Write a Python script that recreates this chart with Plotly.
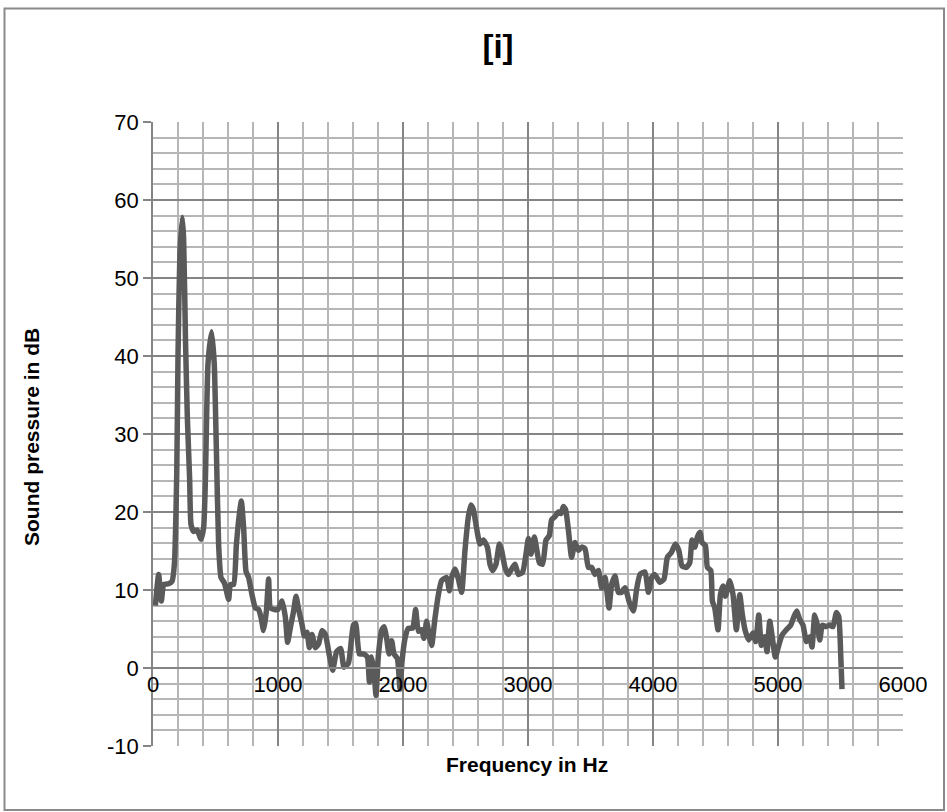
import plotly.graph_objects as go

# Frequency (Hz) and sound pressure (dB)
freq_hz = [
    19, 45, 67, 85, 125, 152, 171, 190, 200, 215, 234, 245, 260, 275, 293,
    304, 325, 352, 384, 405, 419, 440, 469, 490, 507, 525, 544, 571, 605, 619,
    645, 667, 693, 707, 725, 744, 765, 792, 819, 845, 864, 885, 907, 925, 939,
    971, 1000, 1032, 1059, 1077, 1099, 1125, 1144, 1165, 1192, 1211, 1232, 1251, 1272, 1299,
    1325, 1352, 1379, 1411, 1437, 1469, 1501, 1528, 1563, 1603, 1621, 1651, 1683, 1715, 1731,
    1749, 1768, 1784, 1803, 1829, 1848, 1869, 1888, 1909, 1928, 1955, 1976, 1992, 2016, 2043,
    2077, 2101, 2123, 2149, 2168, 2189, 2211, 2229, 2256, 2283, 2309, 2349, 2371, 2389, 2416,
    2443, 2469, 2496, 2523, 2544, 2563, 2589, 2616, 2643, 2675, 2696, 2717, 2744, 2771, 2789,
    2816, 2843, 2869, 2896, 2923, 2957, 2984, 3003, 3024, 3051, 3069, 3091, 3117, 3144, 3171,
    3189, 3216, 3243, 3264, 3283, 3301, 3323, 3349, 3376, 3403, 3429, 3456, 3483, 3509, 3536,
    3563, 3589, 3616, 3648, 3669, 3696, 3723, 3749, 3776, 3811, 3843, 3869, 3896, 3936, 3963,
    3989, 4014, 4054, 4088, 4115, 4147, 4179, 4206, 4232, 4267, 4294, 4312, 4334, 4355, 4376,
    4392, 4419, 4435, 4462, 4475, 4494, 4520, 4539, 4560, 4579, 4614, 4640, 4667, 4694, 4715,
    4739, 4766, 4800, 4822, 4846, 4867, 4894, 4912, 4934, 4952, 4979, 5006, 5032, 5067, 5102,
    5128, 5150, 5174, 5200, 5227, 5254, 5272, 5294, 5315, 5334, 5355, 5382, 5414, 5440, 5467,
    5486, 5502, 5512,
]
sound_db = [
    8.0, 12.0, 8.6, 10.7, 10.8, 11.1, 13.3, 25.0, 40.0, 53.0, 57.8, 55.0, 42.0, 32.0, 24.3,
    18.4, 17.5, 17.7, 16.5, 18.0, 24.0, 39.0, 43.1, 39.0, 28.0, 15.8, 11.6, 10.9, 8.8, 10.7,
    10.7, 15.8, 20.0, 21.4, 18.0, 12.4, 11.6, 9.4, 7.7, 7.5, 6.5, 4.8, 7.3, 11.4, 7.7,
    7.5, 7.5, 8.6, 6.5, 3.3, 5.2, 7.3, 9.2, 7.5, 5.6, 4.1, 4.6, 2.6, 4.3, 2.6,
    3.1, 4.8, 4.3, 1.6, -0.3, 2.1, 2.5, 0.1, 0.6, 5.5, 5.7, 1.8, 1.8, 1.4, -1.8,
    1.4, -0.5, -3.5, 1.6, 4.8, 5.3, 3.8, 1.8, 3.5, 1.8, 1.2, -2.7, 0.8, 3.8, 5.1,
    5.1, 7.5, 4.7, 4.9, 3.8, 6.0, 4.0, 2.9, 6.4, 9.4, 11.2, 11.6, 9.9, 11.6, 12.7,
    11.4, 9.7, 15.1, 19.4, 20.9, 20.3, 17.9, 15.9, 16.4, 15.5, 13.3, 12.5, 13.3, 15.9, 15.1,
    12.9, 12.0, 12.7, 13.3, 12.0, 12.3, 14.6, 16.6, 14.6, 16.8, 15.3, 13.5, 13.3, 16.4, 17.0,
    19.0, 19.4, 20.0, 19.8, 20.7, 20.3, 17.7, 14.2, 16.1, 15.1, 15.5, 15.3, 12.9, 12.9, 12.0,
    12.5, 10.3, 11.6, 7.7, 10.7, 11.8, 9.7, 9.7, 10.3, 8.4, 7.3, 10.1, 12.0, 12.3, 9.7,
    11.6, 12.0, 11.0, 11.4, 14.2, 14.8, 15.9, 15.1, 13.1, 12.9, 13.5, 16.4, 15.5, 16.8, 17.4,
    16.1, 15.7, 12.9, 12.5, 8.6, 7.7, 4.9, 9.4, 10.5, 9.2, 11.2, 9.4, 4.9, 9.4, 6.8,
    4.7, 3.6, 4.5, 3.4, 6.8, 2.9, 4.0, 2.1, 6.0, 4.2, 1.4, 2.9, 4.2, 4.9, 5.5,
    6.6, 7.3, 6.2, 5.5, 3.4, 4.0, 2.7, 6.8, 5.5, 3.6, 5.5, 5.3, 5.5, 5.3, 7.1,
    6.6, 1.6, -2.7,
]

chart_title = "[i]"
x_title = "Frequency in Hz"
y_title = "Sound pressure in dB"
x_tick_vals = [0, 1000, 2000, 3000, 4000, 5000, 6000]
x_tick_text = ["0", "1000", "2000", "3000", "4000", "5000", "6000"]
y_tick_vals = [-10, 0, 10, 20, 30, 40, 50, 60, 70]
y_tick_text = ["-10", "0", "10", "20", "30", "40", "50", "60", "70"]

W, H = 947, 812
L, R, T, B = 153, 44, 122, 66
pw, ph = W - L - R, H - T - B


def px_to_paper_x(px):
    return (px - L) / pw


def px_to_paper_y(py):
    return (H - B - py) / ph


major = "#858585"
minor = "#b6b6b6"
font_family = "Liberation Sans"

fig = go.Figure()
fig.add_trace(go.Scatter(
    x=freq_hz, y=sound_db, mode="lines",
    line=dict(color="#5a5a5a", width=5.5, shape="spline", smoothing=0.5),
    showlegend=False, hoverinfo="x+y",
))

fig.update_layout(
    width=W, height=H,
    margin=dict(l=L, r=R, t=T, b=B, pad=0),
    paper_bgcolor="white", plot_bgcolor="white",
    font=dict(family=font_family, color="#000000"),
    title=dict(text="<b>" + chart_title + "</b>", x=px_to_paper_x(498), xref="paper",
               xanchor="center", y=1 - 46 / H, yanchor="middle",
               font=dict(family=font_family, size=33, color="#000000")),
    xaxis=dict(
        range=[0, 6000], tickvals=x_tick_vals, ticktext=x_tick_text,
        showgrid=True, gridcolor=major, gridwidth=1.5,
        minor=dict(dtick=200, tick0=0, showgrid=True, gridcolor=minor, gridwidth=1.5),
        zeroline=False, showline=True, linecolor=major, linewidth=1.5,
        anchor="free", position=0.125, side="bottom",
        ticks="", ticklabelstandoff=-3,
        tickfont=dict(family=font_family, size=22, color="#000000"),
    ),
    yaxis=dict(
        range=[-10, 70], tickvals=y_tick_vals, ticktext=y_tick_text,
        showgrid=True, gridcolor=major, gridwidth=1.5,
        minor=dict(dtick=2, tick0=0, showgrid=True, gridcolor=minor, gridwidth=1.5),
        zeroline=False, showline=True, linecolor=major, linewidth=1.5,
        ticks="outside", ticklen=8, tickcolor=major, tickwidth=1.5,
        tickfont=dict(family=font_family, size=22, color="#000000"),
    ),
    annotations=[
        dict(text="<b>" + x_title + "</b>", xref="paper", yref="paper",
             x=px_to_paper_x(527), y=px_to_paper_y(765), xanchor="center", yanchor="middle",
             showarrow=False, font=dict(family=font_family, size=21, color="#000000")),
        dict(text="<b>" + y_title + "</b>", xref="paper", yref="paper",
             x=px_to_paper_x(31), y=px_to_paper_y(437), xanchor="center", yanchor="middle",
             textangle=-90, showarrow=False,
             font=dict(family=font_family, size=21, color="#000000")),
    ],
    shapes=[
        dict(type="rect", xref="paper", yref="paper",
             x0=px_to_paper_x(4.5), x1=px_to_paper_x(944), y0=px_to_paper_y(810), y1=px_to_paper_y(8.5),
             line=dict(color="#8a8a8a", width=2), fillcolor="rgba(0,0,0,0)", layer="below"),
    ],
)

fig.write_html("out.html")
